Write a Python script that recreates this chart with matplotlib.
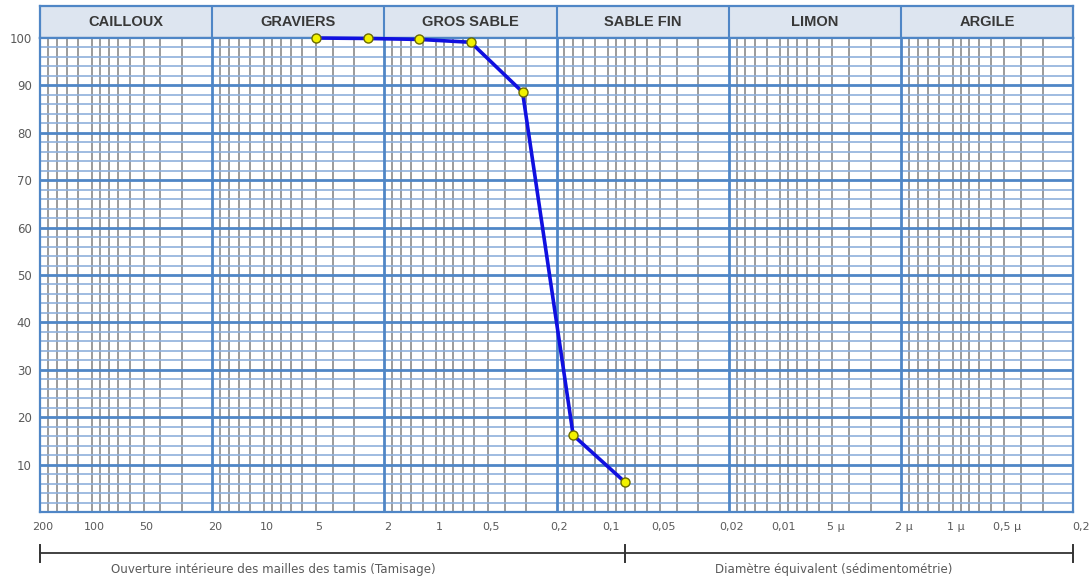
import numpy as np
import matplotlib
matplotlib.use("Agg")
import matplotlib.pyplot as plt
import matplotlib.transforms as mtransforms

# ── Data ──────────────────────────────────────────────────────────────────────
sieve_mm = [5, 2.5, 1.25, 0.63, 0.315, 0.16, 0.08]
passing = [100, 99.9, 99.7, 99.1, 88.6, 16.2, 6.3]

sections = ["CAILLOUX", "GRAVIERS", "GROS SABLE", "SABLE FIN", "LIMON", "ARGILE"]
section_bounds = [200, 20, 2, 0.2, 0.02, 0.002, 0.0002]

tick_vals = [200, 100, 50, 20, 10, 5, 2, 1, 0.5, 0.2, 0.1, 0.05,
             0.02, 0.01, 0.005, 0.002, 0.001, 0.0005, 0.0002]
tick_labels = ["200", "100", "50", "20", "10", "5", "2", "1", "0,5", "0,2", "0,1",
               "0,05", "0,02", "0,01", "5 µ", "2 µ", "1 µ", "0,5 µ", "0,2"]
y_ticks = [10, 20, 30, 40, 50, 60, 70, 80, 90, 100]

sieve_limit = 0.08   # tamisage / sédimentométrie
label_sieve = "Ouverture intérieure des mailles des tamis (Tamisage)"
label_sed = "Diamètre équivalent (sédimentométrie)"

# ── Layout / style ────────────────────────────────────────────────────────────
W, H = 1090, 578
X0, X1 = 40, 1073
Y_TOP, Y_BOT = 38, 512
HDR_TOP = 6
BLUE_MAJ = "#4f86c6"
BLUE_MIN = "#8fb0dc"
GRAY_MIN = "#939393"
TXT = "#5a5a5a"

plt.rcParams["font.family"] = ["DejaVu Sans"]

fig = plt.figure(figsize=(W / 100, H / 100), dpi=100)
ax = fig.add_axes([X0 / W, 1 - Y_BOT / H, (X1 - X0) / W, (Y_BOT - Y_TOP) / H])
hdr = fig.add_axes([X0 / W, 1 - Y_TOP / H, (X1 - X0) / W, (Y_TOP - HDR_TOP) / H])
ax.set_zorder(3)
hdr.set_zorder(1)

for a in (ax, hdr):
    a.set_xscale("log")
    a.set_xlim(section_bounds[0], section_bounds[-1])
    a.tick_params(length=0)
    a.minorticks_off()
    for s in a.spines.values():
        s.set_color(BLUE_MAJ)
        s.set_linewidth(1.6)

ax.set_ylim(0, 100)

# minor verticals inside each decade
for hi in section_bounds[:-1]:
    for m in [9, 8, 7, 6, 5, 4.5, 4, 3.5, 3, 2.5, 2, 1.5]:
        ax.axvline(hi * m / 10, color=GRAY_MIN, lw=1.3, zorder=1)

# horizontal grid
for v in range(2, 100, 2):
    if v % 10 == 0:
        ax.axhline(v, color=BLUE_MAJ, lw=2.0, zorder=2)
    else:
        ax.axhline(v, color=BLUE_MIN, lw=1.2, zorder=1.5)

# section boundaries
for b in section_bounds[1:-1]:
    ax.axvline(b, color=BLUE_MAJ, lw=2.0, zorder=2.5)
    hdr.axvline(b, color=BLUE_MAJ, lw=1.5)

# header band
hdr.set_ylim(0, 1)
hdr.set_facecolor("#dde5f0")
hdr.set_xticks([])
hdr.set_yticks([])
for name, hi, lo in zip(sections, section_bounds[:-1], section_bounds[1:]):
    hdr.text(np.sqrt(hi * lo), 0.5, name, ha="center", va="center",
             fontsize=10.5, color="#383838", fontweight="bold",
             family=["Liberation Sans", "DejaVu Sans"])

# curve
ax.plot(sieve_mm, passing, color="#1010e0", lw=2.6, zorder=5, clip_on=False)
ax.plot(sieve_mm, passing, ls="none", marker="o", ms=6.5, mfc="#f2f200",
        mec="#6b6b00", mew=1.0, zorder=6, clip_on=False)

# y ticks
ax.set_yticks(y_ticks)
ax.set_yticklabels([str(v) for v in y_ticks], fontsize=8.5, color=TXT)
ax.tick_params(axis="y", pad=6)

# x tick labels (placed by hand for a common baseline)
ax.set_xticks([])
xform = mtransforms.blended_transform_factory(ax.transData, fig.transFigure)
base_y = 1 - 530 / H
for i, (v, lab) in enumerate(zip(tick_vals, tick_labels)):
    last = i == len(tick_vals) - 1
    off = mtransforms.ScaledTranslation(-0.01 if last else 0.03, 0, fig.dpi_scale_trans)
    ax.text(v, base_y, lab, transform=xform + off, ha="left" if last else "center",
            va="baseline", fontsize=8, color=TXT, clip_on=False)

# bottom scale bar
yb = 1 - 553 / H
ax.plot([section_bounds[0], section_bounds[-1]], [yb, yb], color="#333333",
        lw=1.3, transform=xform, clip_on=False)
for xv in [section_bounds[0], sieve_limit, section_bounds[-1]]:
    ax.plot([xv, xv], [1 - 545 / H, 1 - 562 / H], color="#333333", lw=1.4,
            transform=xform, clip_on=False)

yt = 1 - 570 / H
fig.text(273 / W, yt, label_sieve, ha="center", va="center", fontsize=8.6, color=TXT)
fig.text(834 / W, yt, label_sed, ha="center", va="center", fontsize=8.6, color=TXT)

fig.savefig("out.png", dpi=100)
